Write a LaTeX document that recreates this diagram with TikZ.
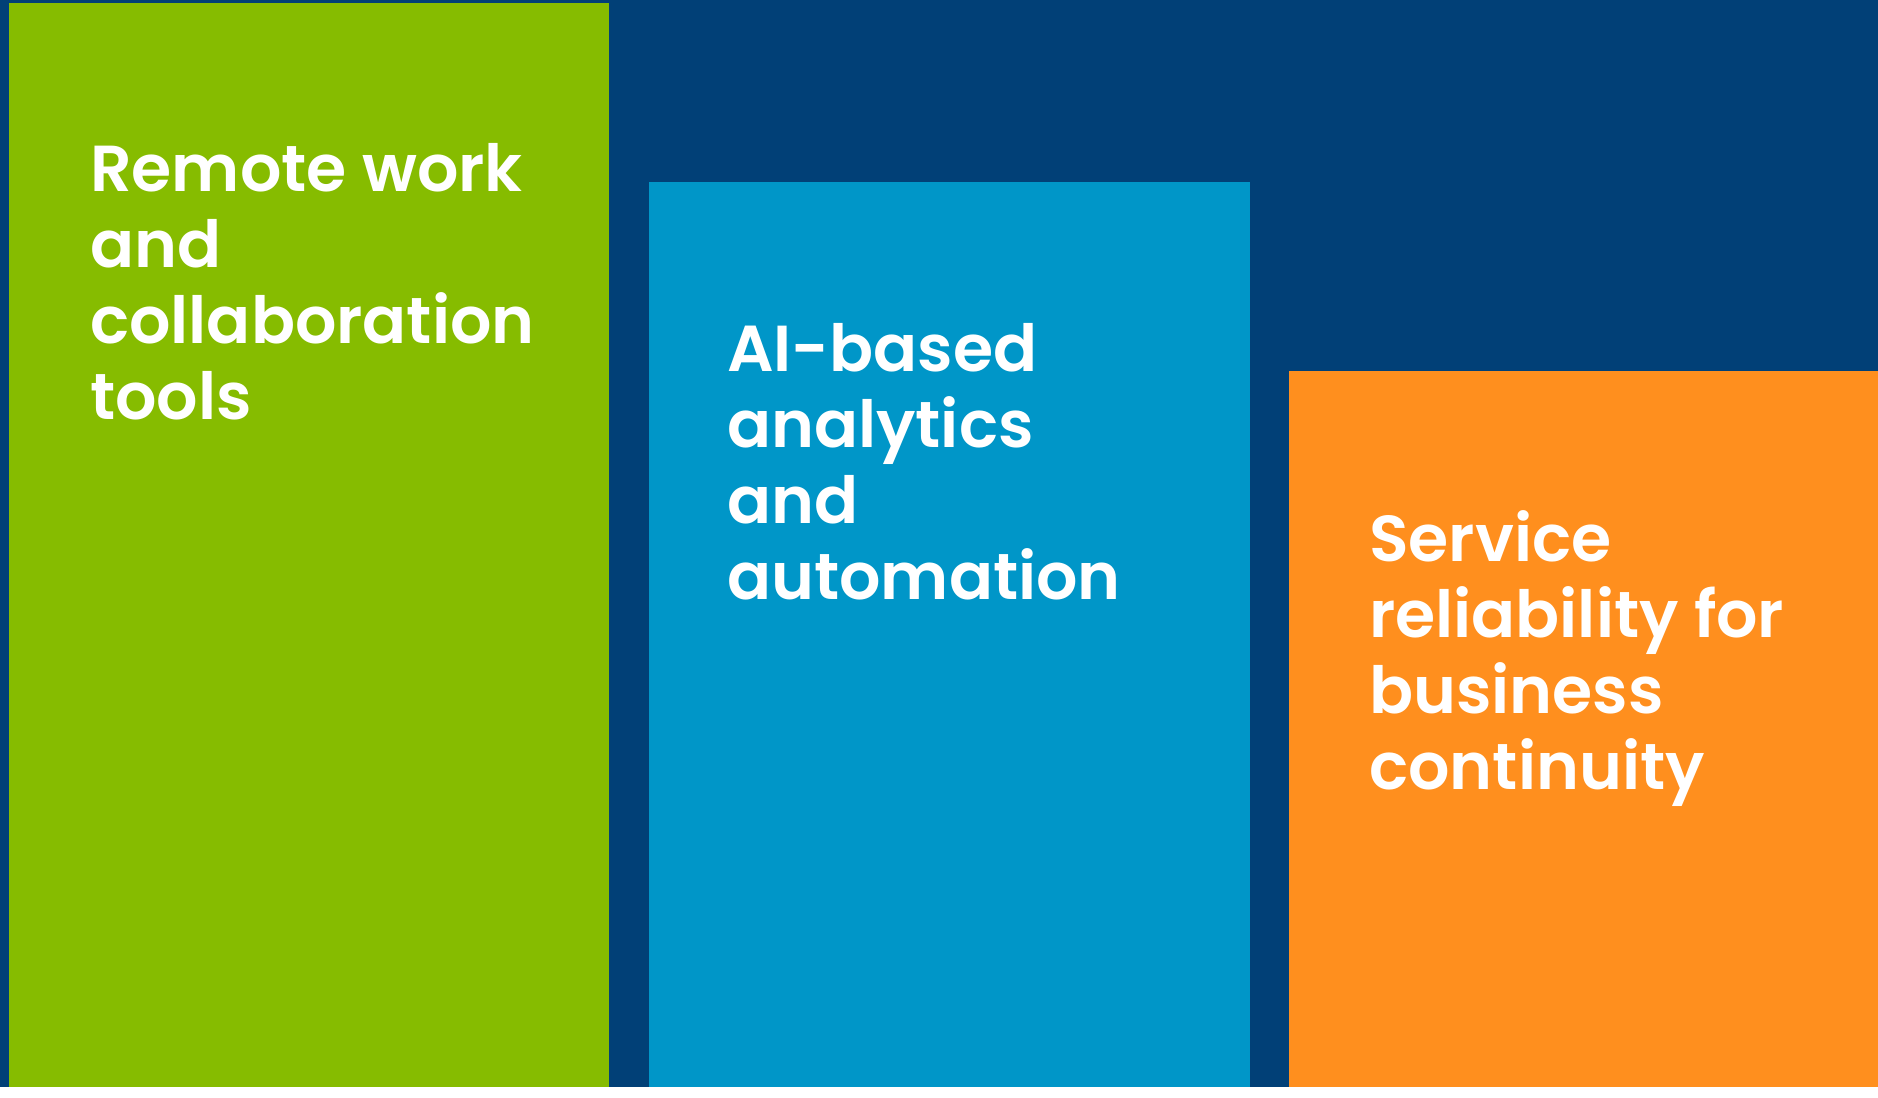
\documentclass[tikz,border=0pt]{standalone}
\usepackage{fontspec}
\newfontfamily\boxfont{Poppins SemiBold}
\definecolor{navybg}{HTML}{014077}
\definecolor{greenbox}{HTML}{86BC00}
\definecolor{bluebox}{HTML}{0096C8}
\definecolor{orangebox}{HTML}{FF8F1E}
\begin{document}
\begin{tikzpicture}[x=1pt,y=-1pt,
  boxlabel/.style={anchor=base west,inner sep=0pt,text=white,align=left,
    font=\boxfont\fontsize{65}{76}\selectfont}]
\useasboundingbox (0,0) rectangle (1878,1097);
\fill[white] (0,0) rectangle (1878,1097);
\fill[navybg] (0,0) rectangle (1878,1087);
\fill[greenbox] (9,3) rectangle (609,1087);
\fill[bluebox] (649,182) rectangle (1250,1087);
\fill[orangebox] (1289,371) rectangle (1878,1087);
\node[boxlabel] (t1) at (90,419) {Remote work\\and\\collaboration\\tools};
\node[boxlabel] (t2) at (727,599) {AI-based\\analytics\\and\\automation};
\node[boxlabel] (t3) at (1369,789) {Service\\reliability for\\business\\continuity};
\end{tikzpicture}
\end{document}
